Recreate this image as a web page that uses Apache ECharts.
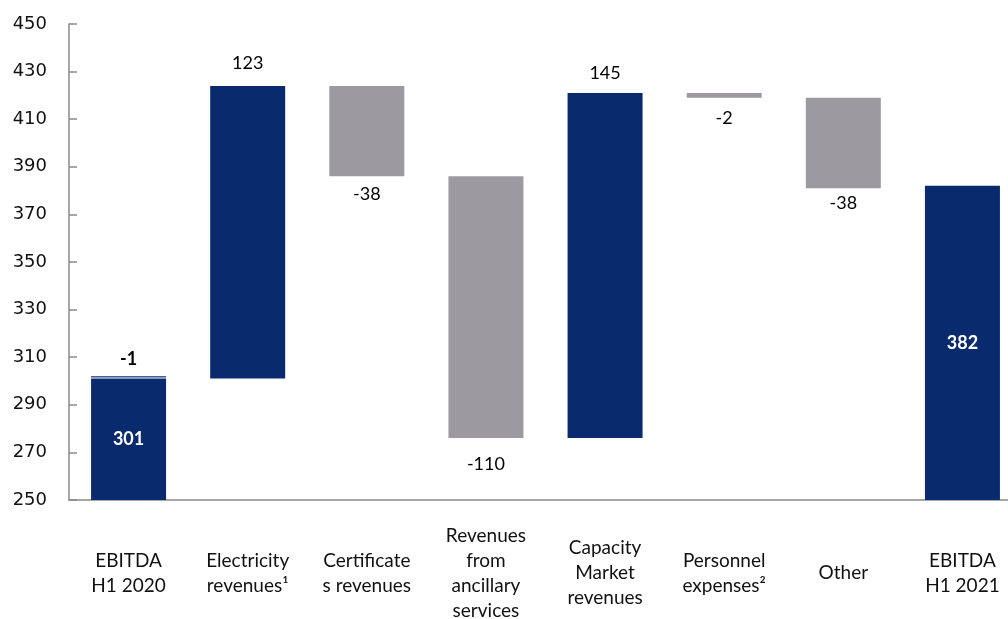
<!DOCTYPE html>
<html>
<head>
<meta charset="utf-8">
<script src="https://cdn.jsdelivr.net/npm/echarts@6/dist/echarts.min.js"></script>
<style>
  html, body { margin: 0; padding: 0; background: #ffffff; }
  #chart { width: 1008px; height: 619px; }
</style>
</head>
<body>
<div id="chart"></div>
<script>
// EBITDA bridge H1 2020 -> H1 2021 (PLN m)
const categories = [
  'EBITDA\nH1 2020',
  'Electricity\nrevenues¹',
  'Certificate\ns revenues',
  'Revenues\nfrom\nancillary\nservices',
  'Capacity\nMarket\nrevenues',
  'Personnel\nexpenses²',
  'Other',
  'EBITDA\nH1 2021'
];
// Step values; first and last entries are totals
const steps = [301, 123, -38, -110, 145, -2, -38, 382];
const isTotal = [true, false, false, false, false, false, false, true];
// Adjustment shown on top of the opening bar
const openingAdjustment = -1;

const axisTicks = { min: 250, max: 450, interval: 20 };

const BLUE = '#0A2A6E';
const GREY = '#9C99A1';

// Gap between each step bar and its value label
const labelGap = [0, 14, 9, 17, 11, 11, 6, 0];

// Build invisible bases and visible bar heights from the running total
const baseData = [];
const barData = [];
let running = 0;
steps.forEach((v, i) => {
  if (isTotal[i]) {
    running = v;
    baseData.push(0);
    barData.push({
      value: v,
      itemStyle: { color: BLUE },
      label: {
        show: true, position: 'inside', color: '#ffffff', fontWeight: 'bold',
        formatter: String(v)
      }
    });
  } else {
    const next = running + v;
    baseData.push(Math.min(running, next));
    barData.push({
      value: Math.abs(v),
      itemStyle: { color: v > 0 ? BLUE : GREY },
      label: {
        show: true,
        position: v > 0 ? 'top' : 'bottom',
        distance: labelGap[i],
        color: '#000000',
        formatter: String(v)
      }
    });
    running = next;
  }
});

// Opening adjustment segment stacked on the first bar
const adjData = categories.map((c, i) => i === 0 ? {
  value: Math.abs(openingAdjustment),
  itemStyle: {
    color: {
      type: 'linear', x: 0, y: 0, x2: 0, y2: 1,
      colorStops: [
        { offset: 0, color: BLUE }, { offset: 0.45, color: BLUE },
        { offset: 0.45, color: '#8C9CC2' }, { offset: 1, color: '#8C9CC2' }
      ]
    }
  },
  label: {
    show: true, position: 'top', distance: 8, color: '#000000',
    fontWeight: 'bold', formatter: String(openingAdjustment)
  }
} : '-');

const chart = echarts.init(document.getElementById('chart'), null, { renderer: 'canvas' });
chart.setOption({
  animation: false,
  textStyle: { fontFamily: 'Lato' },
  grid: {
    left: 69, right: -14, top: 24, bottom: 119,
    containLabel: false, outerBoundsMode: 'none'
  },
  xAxis: {
    type: 'category',
    data: categories,
    axisLine: { lineStyle: { color: '#8a8a8a', width: 1.5 } },
    axisTick: { show: false },
    axisLabel: {
      interval: 0,
      margin: 73,
      verticalAlign: 'middle',
      color: '#111111',
      fontFamily: 'Lato',
      fontSize: 19,
      lineHeight: 25
    }
  },
  yAxis: {
    type: 'value',
    min: axisTicks.min,
    max: axisTicks.max,
    interval: axisTicks.interval,
    splitLine: { show: false },
    axisLine: { show: true, lineStyle: { color: '#8a8a8a', width: 1.5 } },
    axisTick: { show: true, inside: true, length: 8, lineStyle: { color: '#8a8a8a', width: 1.5 } },
    axisLabel: {
      margin: 22,
      color: '#111111',
      fontFamily: 'DejaVu Sans',
      fontSize: 18
    }
  },
  series: [
    {
      name: 'base', type: 'bar', stack: 'bridge', barWidth: 75,
      itemStyle: { color: 'transparent' },
      emphasis: { disabled: true },
      data: baseData
    },
    {
      name: 'value', type: 'bar', stack: 'bridge', barWidth: 75,
      label: { fontFamily: 'Lato', fontSize: 18 },
      data: barData
    },
    {
      name: 'adjustment', type: 'bar', stack: 'bridge', barWidth: 75,
      label: { fontFamily: 'Lato', fontSize: 18 },
      data: adjData
    }
  ]
});
</script>
</body>
</html>
